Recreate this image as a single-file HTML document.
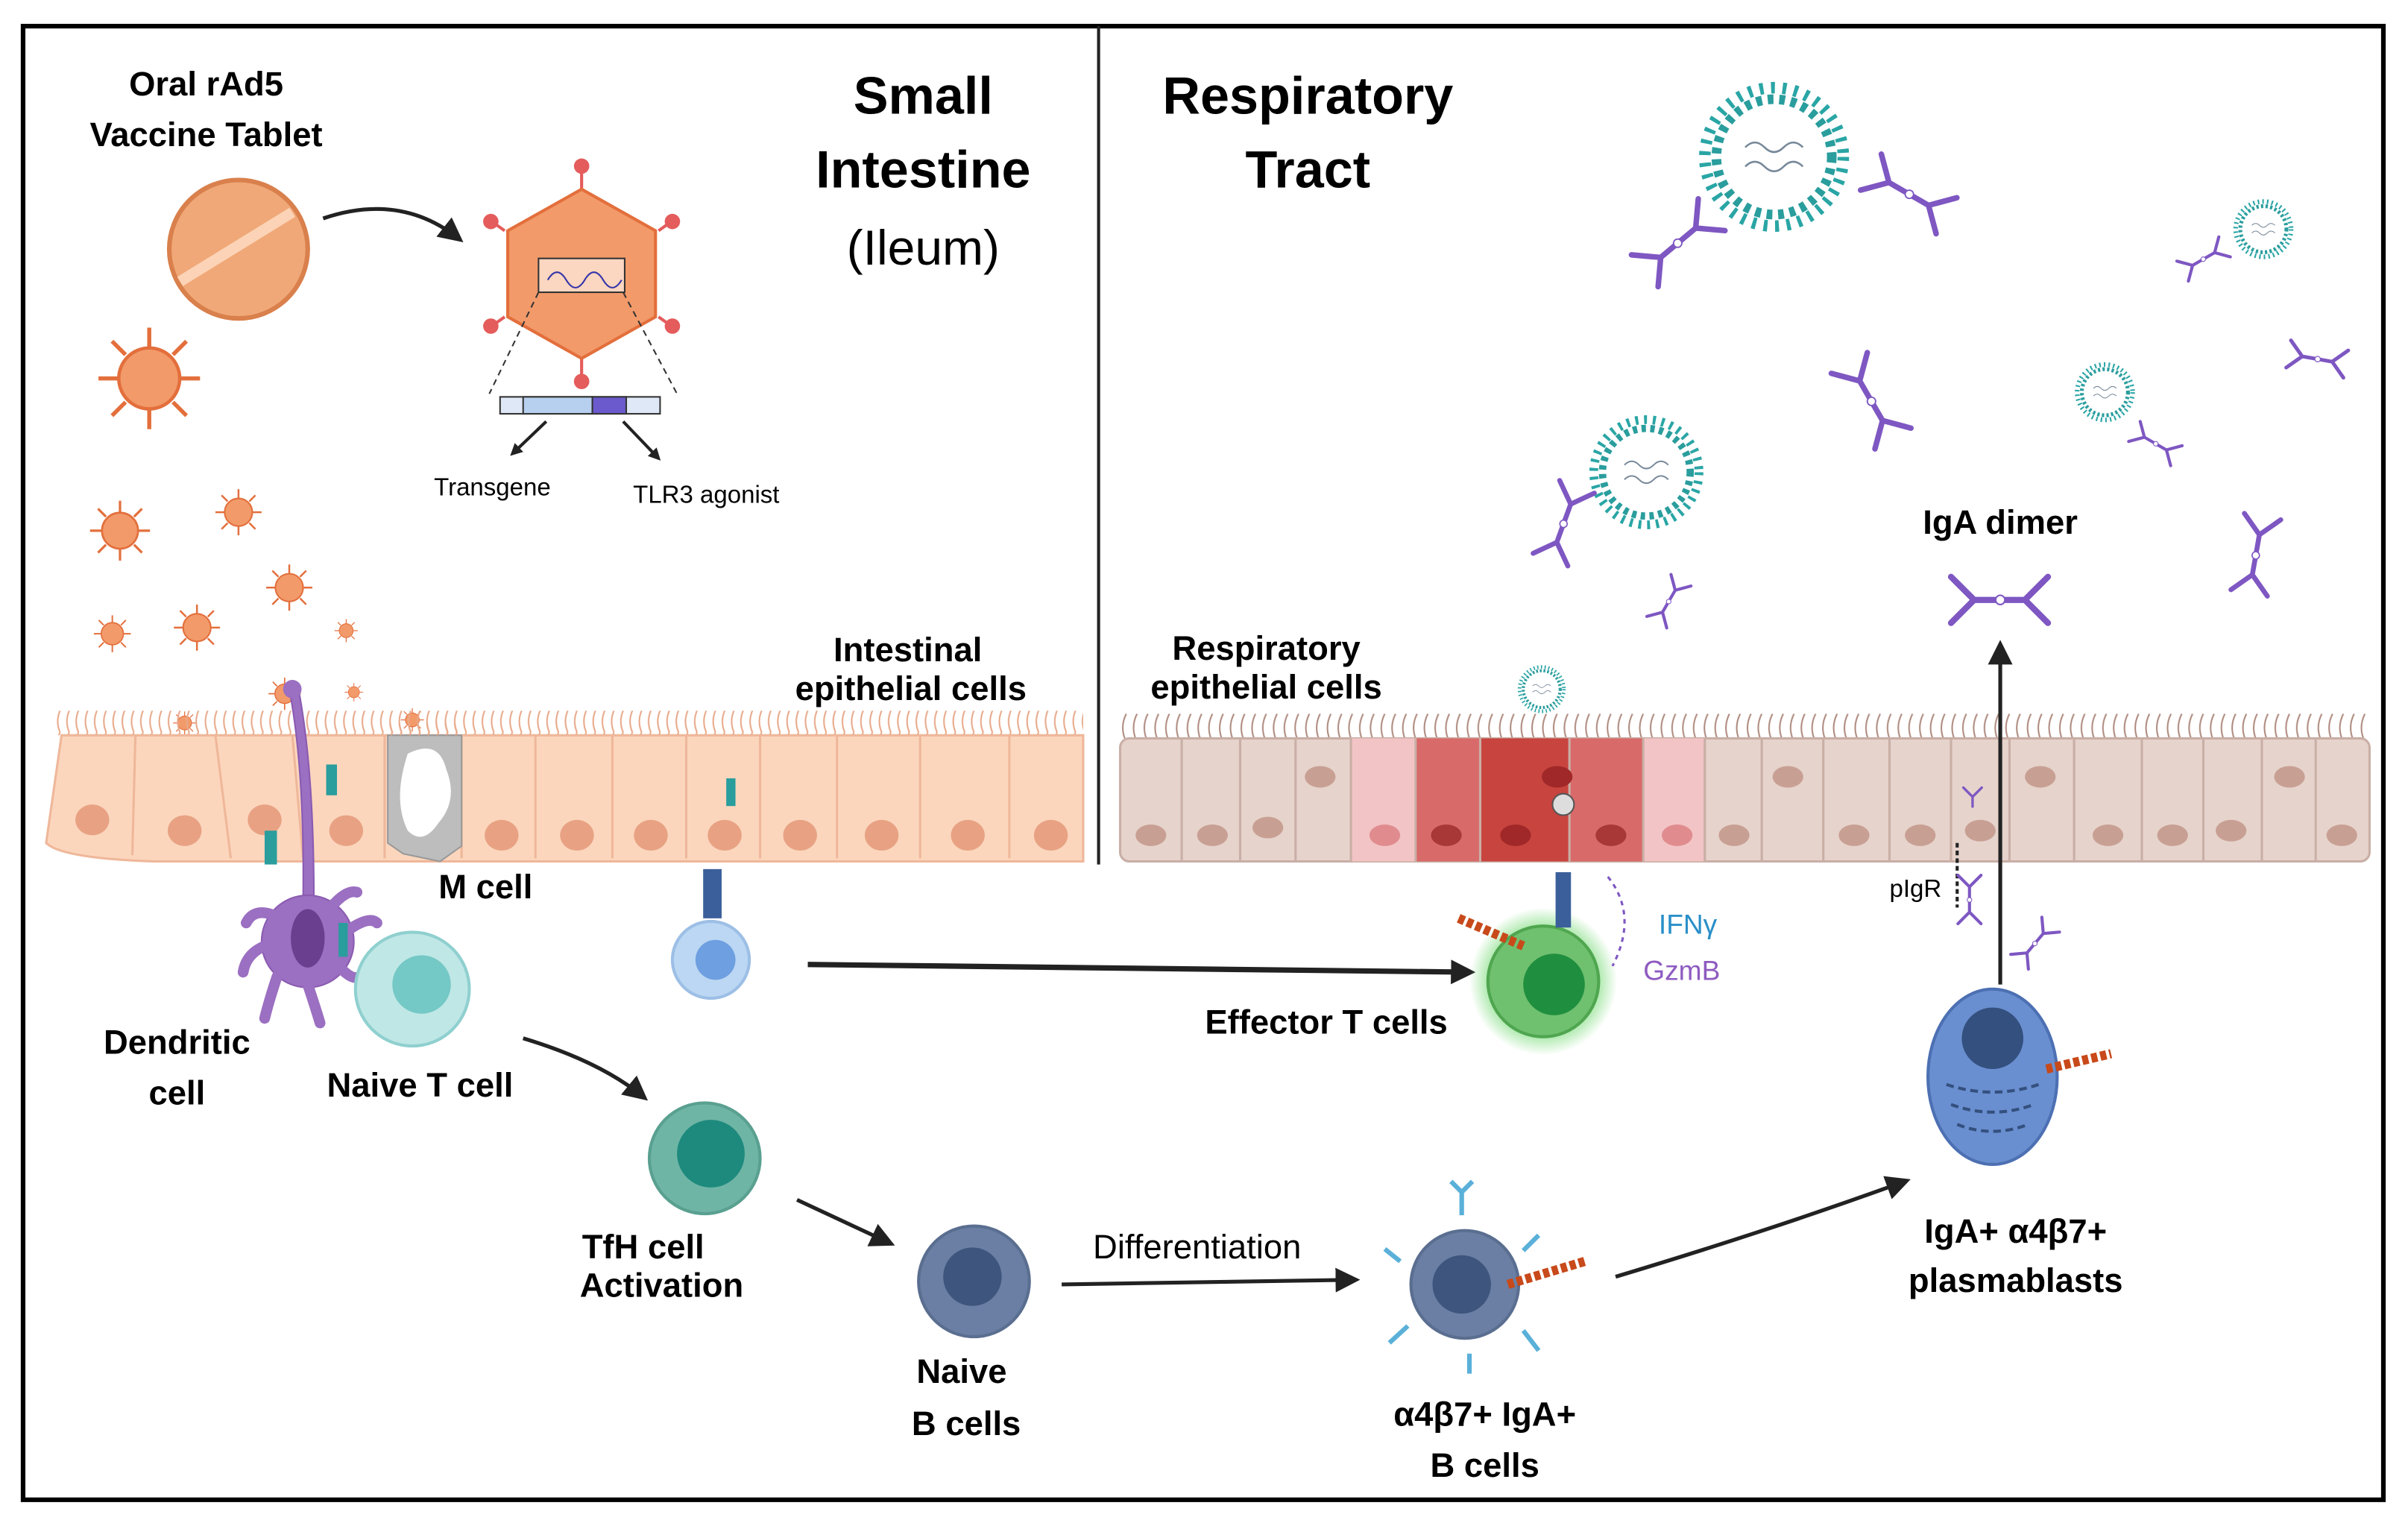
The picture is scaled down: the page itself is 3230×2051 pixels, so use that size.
<!DOCTYPE html>
<html><head><meta charset="utf-8"><style>
html,body{margin:0;padding:0;background:#fff;}
svg{display:block;}
text{font-family:"Liberation Sans",sans-serif;}
</style></head><body>
<svg width="3230" height="2051" viewBox="0 0 1565 994" preserveAspectRatio="none" xmlns="http://www.w3.org/2000/svg">
<defs>
<marker id="ah" markerWidth="8" markerHeight="8" refX="6" refY="4" orient="auto" markerUnits="userSpaceOnUse"><path d="M0,0 L8,4 L0,8 z" fill="#222"/></marker>
<marker id="ah2" markerWidth="16" markerHeight="16" refX="12" refY="8" orient="auto" markerUnits="userSpaceOnUse"><path d="M0,0 L16,8 L0,16 z" fill="#222"/></marker>
<radialGradient id="glow"><stop offset="0.6" stop-color="#6fd86f" stop-opacity="0.9"/><stop offset="1" stop-color="#6fd86f" stop-opacity="0"/></radialGradient>
<pattern id="cil" width="6" height="14" patternUnits="userSpaceOnUse"><path d="M3,14 Q0,7 3,0" stroke="#e8a98a" fill="none" stroke-width="1"/></pattern>
<pattern id="cil2" width="7" height="16" patternUnits="userSpaceOnUse"><path d="M3,16 Q0,8 4,0" stroke="#b08c80" fill="none" stroke-width="1"/></pattern>
<g id="vir"><circle r="9" fill="#f29a6a" stroke="#e36f3c"/><g stroke="#e36f3c" stroke-width="1.2"><line x1="0" y1="-9" x2="0" y2="-15"/><line x1="0" y1="9" x2="0" y2="15"/><line x1="-9" y1="0" x2="-15" y2="0"/><line x1="9" y1="0" x2="15" y2="0"/><line x1="-7" y1="-7" x2="-11" y2="-11"/><line x1="7" y1="7" x2="11" y2="11"/><line x1="7" y1="-7" x2="11" y2="-11"/><line x1="-7" y1="7" x2="-11" y2="11"/></g></g>
<g id="ab" stroke="#7e57c2" stroke-width="4" fill="none" stroke-linecap="round"><path d="M0,0 L0,16 M0,0 L-12,-12 M0,0 L12,-12 M-4,-4 L-15,-15 M4,-4 L15,-15"/></g>
<g id="dim"><use href="#ab" transform="translate(0,-3)"/><use href="#ab" transform="translate(0,30) rotate(180)"/><circle cx="0" cy="14" r="3" fill="#fff" stroke="#7e57c2"/></g>
<g id="cov"><circle r="30" fill="#fff" stroke="#2a9d9d" stroke-width="5" stroke-dasharray="3 3"/><circle r="36" fill="none" stroke="#2aa5a5" stroke-width="6" stroke-dasharray="2 4"/><path d="M-15,-5 q5,-5 10,0 t10,0 t10,0 M-15,5 q5,-5 10,0 t10,0 t10,0" stroke="#789" fill="none"/></g>
</defs>
<rect width="1565" height="994" fill="#fff"/>
<rect x="15" y="17" width="1534" height="958" fill="none" stroke="#000" stroke-width="3"/>
<line x1="714" y1="17" x2="714" y2="562" stroke="#222" stroke-width="2"/>

<text x="134" y="62" font-size="22" font-weight="bold" text-anchor="middle">Oral rAd5</text>
<text x="134" y="95" font-size="22" font-weight="bold" text-anchor="middle">Vaccine Tablet</text>
<text x="600" y="74" font-size="34" font-weight="bold" text-anchor="middle">Small</text>
<text x="600" y="122" font-size="34" font-weight="bold" text-anchor="middle">Intestine</text>
<text x="600" y="172" font-size="32" text-anchor="middle">(Ileum)</text>
<text x="850" y="74" font-size="34" font-weight="bold" text-anchor="middle">Respiratory</text>
<text x="850" y="122" font-size="34" font-weight="bold" text-anchor="middle">Tract</text>

<circle cx="155" cy="162" r="45" fill="#f0a878" stroke="#d9804c" stroke-width="3"/>
<path d="M117,183 L190,138" stroke="#fcd3b6" stroke-width="7"/>
<path d="M210,142 Q260,125 298,155" stroke="#222" stroke-width="2.5" fill="none" marker-end="url(#ah2)"/>
<g transform="translate(378,178)">
<g stroke="#e45c5c" stroke-width="2"><line x1="0" y1="-55" x2="0" y2="-68"/><line x1="-50" y1="-28" x2="-57" y2="-33"/><line x1="50" y1="-28" x2="57" y2="-33"/><line x1="-50" y1="28" x2="-57" y2="33"/><line x1="50" y1="28" x2="57" y2="33"/><line x1="0" y1="55" x2="0" y2="68"/></g>
<g fill="#e45c5c"><circle cy="-70" r="5"/><circle cx="-59" cy="-34" r="5"/><circle cx="59" cy="-34" r="5"/><circle cx="-59" cy="34" r="5"/><circle cx="59" cy="34" r="5"/><circle cy="70" r="5"/></g>
<polygon points="0,-55 48,-28 48,28 0,55 -48,28 -48,-28" fill="#f29a6a" stroke="#e36f3c" stroke-width="2"/>
<rect x="-28" y="-10" width="56" height="22" fill="#fbd6c0" stroke="#333"/>
<path d="M-22,4 q6,-10 12,0 t12,0 t12,0 t12,0" stroke="#33a" fill="none"/>
</g>
<line x1="350" y1="190" x2="318" y2="256" stroke="#333" stroke-dasharray="4 3"/>
<line x1="405" y1="190" x2="440" y2="256" stroke="#333" stroke-dasharray="4 3"/>
<rect x="325" y="258" width="104" height="11" fill="#dfe8f7" stroke="#333"/>
<rect x="340" y="258" width="45" height="11" fill="#b7d0f0" stroke="#333"/>
<rect x="385" y="258" width="22" height="11" fill="#6a5acd" stroke="#333"/>
<path d="M355,274 L333,295" stroke="#222" stroke-width="2" marker-end="url(#ah)"/>
<path d="M405,274 L428,298" stroke="#222" stroke-width="2" marker-end="url(#ah)"/>
<text x="320" y="322" font-size="16" text-anchor="middle">Transgene</text>
<text x="459" y="327" font-size="16" text-anchor="middle">TLR3 agonist</text>

<use href="#vir" transform="translate(97,246) scale(2.2)"/>
<use href="#vir" transform="translate(78,345) scale(1.3)"/>
<use href="#vir" transform="translate(155,333) scale(1)"/>
<use href="#vir" transform="translate(188,382) scale(1)"/>
<use href="#vir" transform="translate(128,408) scale(1)"/>
<use href="#vir" transform="translate(73,412) scale(0.8)"/>
<use href="#vir" transform="translate(225,410) scale(0.5)"/>
<use href="#vir" transform="translate(185,451) scale(0.7)"/>
<use href="#vir" transform="translate(120,470) scale(0.5)"/>
<use href="#vir" transform="translate(268,468) scale(0.5)"/>
<use href="#vir" transform="translate(230,450) scale(0.4)"/>

<text x="590" y="430" font-size="22" font-weight="bold" text-anchor="middle">Intestinal</text>
<text x="592" y="455" font-size="22" font-weight="bold" text-anchor="middle">epithelial cells</text>
<rect x="36" y="462" width="668" height="16" fill="url(#cil)"/>
<path d="M40,478 L704,478 L704,560 L100,560 Q40,558 30,548 Z" fill="#fbd6bd" stroke="#efb79a" stroke-width="1.5"/>
<g stroke="#efb79a" stroke-width="1.5">
<line x1="88" y1="478" x2="86" y2="556"/><line x1="140" y1="478" x2="150" y2="558"/><line x1="190" y1="478" x2="197" y2="558"/><line x1="250" y1="478" x2="250" y2="558"/><line x1="300" y1="478" x2="300" y2="558"/><line x1="348" y1="478" x2="348" y2="558"/><line x1="398" y1="478" x2="398" y2="558"/><line x1="446" y1="478" x2="446" y2="558"/><line x1="494" y1="478" x2="494" y2="558"/><line x1="544" y1="478" x2="544" y2="558"/><line x1="598" y1="478" x2="598" y2="558"/><line x1="656" y1="478" x2="656" y2="558"/>
</g>
<g fill="#e8a283">
<ellipse cx="60" cy="533" rx="11" ry="10"/><ellipse cx="120" cy="540" rx="11" ry="10"/><ellipse cx="172" cy="533" rx="11" ry="10"/><ellipse cx="225" cy="540" rx="11" ry="10"/><ellipse cx="326" cy="543" rx="11" ry="10"/><ellipse cx="375" cy="543" rx="11" ry="10"/><ellipse cx="423" cy="543" rx="11" ry="10"/><ellipse cx="471" cy="543" rx="11" ry="10"/><ellipse cx="520" cy="543" rx="11" ry="10"/><ellipse cx="573" cy="543" rx="11" ry="10"/><ellipse cx="629" cy="543" rx="11" ry="10"/><ellipse cx="683" cy="543" rx="11" ry="10"/>
</g>
<path d="M252,478 L300,478 L300,550 L286,560 L262,555 L252,548 Z" fill="#bdbdbd" stroke="#999"/>
<path d="M265,490 Q285,480 290,500 Q298,520 285,535 Q275,550 265,540 Q255,520 265,490 Z" fill="#fff"/>
<rect x="252" y="470" width="48" height="8" fill="url(#cil)"/>
<text x="285" y="584" font-size="22" font-weight="bold">M cell</text>

<!-- dendritic cell -->
<g fill="#9b6fc1" stroke="#8a5bb1">
<path d="M188,448 Q198,500 197,585 L204,585 Q204,500 194,448 Z"/>
<circle cx="200" cy="612" r="30"/>
<g stroke="#9b6fc1" stroke-width="7" stroke-linecap="round" fill="none">
<path d="M178,595 Q165,590 160,600"/><path d="M172,615 Q160,620 158,632"/><path d="M180,635 Q175,650 172,662"/><path d="M200,640 Q205,655 208,665"/><path d="M222,630 Q232,640 236,632"/><path d="M226,605 Q240,595 245,600"/><path d="M215,590 Q225,578 232,580"/>
</g>
</g>
<ellipse cx="200" cy="610" rx="11" ry="19" fill="#6b3f8f"/>
<circle cx="190" cy="448" r="6" fill="#9b6fc1"/>
<rect x="172" y="540" width="8" height="22" fill="#2a9d9d"/>
<rect x="212" y="497" width="7" height="20" fill="#2a9d9d"/>
<rect x="472" y="506" width="6" height="18" fill="#2a9d9d"/>
<rect x="220" y="600" width="6" height="22" fill="#2a9d9d"/>
<circle cx="268" cy="643" r="37" fill="#bfe7e6" stroke="#8fd0cf" stroke-width="2"/>
<circle cx="274" cy="640" r="19" fill="#74c8c5"/>
<text x="115" y="685" font-size="22" font-weight="bold" text-anchor="middle">Dendritic</text>
<text x="115" y="718" font-size="22" font-weight="bold" text-anchor="middle">cell</text>
<text x="273" y="713" font-size="22" font-weight="bold" text-anchor="middle">Naive T cell</text>

<rect x="457" y="565" width="12" height="32" fill="#3b5f9a"/>
<circle cx="462" cy="624" r="25" fill="#bcd7f3" stroke="#9dbfe6" stroke-width="2"/>
<circle cx="465" cy="624" r="13" fill="#6e9fe0"/>
<path d="M525,627 L955,632" stroke="#222" stroke-width="3.5" marker-end="url(#ah2)"/>

<path d="M340,675 Q390,690 418,713" stroke="#222" stroke-width="2.5" fill="none" marker-end="url(#ah2)"/>
<circle cx="458" cy="753" r="36" fill="#6fb5a6" stroke="#5aa090" stroke-width="2"/>
<circle cx="462" cy="750" r="22" fill="#1d8a7d"/>
<text x="418" y="818" font-size="22" font-weight="bold" text-anchor="middle">TfH cell</text>
<text x="430" y="843" font-size="22" font-weight="bold" text-anchor="middle">Activation</text>
<path d="M518,780 L578,808" stroke="#222" stroke-width="2.5" marker-end="url(#ah2)"/>
<circle cx="633" cy="833" r="36" fill="#6a7fa3" stroke="#5a6e90" stroke-width="2"/>
<circle cx="632" cy="830" r="19" fill="#3e557d"/>
<text x="625" y="899" font-size="22" font-weight="bold" text-anchor="middle">Naive</text>
<text x="628" y="933" font-size="22" font-weight="bold" text-anchor="middle">B cells</text>
<text x="778" y="818" font-size="22" text-anchor="middle">Differentiation</text>
<path d="M690,835 L880,832" stroke="#222" stroke-width="2.5" marker-end="url(#ah2)"/>

<g stroke="#5ab0d8" stroke-width="3" fill="none"><path d="M950,790 L950,775 M943,768 L950,775 L957,768 M990,813 L1000,803 M910,820 L900,812 M990,865 L1000,878 M915,862 L903,873 M955,880 L955,893"/></g>
<circle cx="952" cy="835" r="35" fill="#6a7fa3" stroke="#5a6e90" stroke-width="2"/>
<circle cx="950" cy="835" r="19" fill="#3e557d"/>
<path d="M980,835 L1030,820" stroke="#c8491a" stroke-width="6" stroke-dasharray="4 2"/>
<text x="965" y="927" font-size="22" font-weight="bold" text-anchor="middle">α4β7+ IgA+</text>
<text x="965" y="960" font-size="22" font-weight="bold" text-anchor="middle">B cells</text>
<path d="M1050,830 Q1150,800 1238,768" stroke="#222" stroke-width="2.5" fill="none" marker-end="url(#ah2)"/>

<text x="823" y="429" font-size="22" font-weight="bold" text-anchor="middle">Respiratory</text>
<text x="823" y="454" font-size="22" font-weight="bold" text-anchor="middle">epithelial cells</text>
<rect x="728" y="464" width="812" height="18" fill="url(#cil2)"/>
<rect x="728" y="480" width="812" height="80" rx="6" fill="#e6d3cc" stroke="#c9afa6" stroke-width="1.5"/>
<rect x="878" y="480" width="42" height="80" fill="#f2c4c6"/>
<rect x="920" y="480" width="42" height="80" fill="#d86a6a"/>
<rect x="962" y="480" width="58" height="80" fill="#c8443f"/>
<rect x="1020" y="480" width="48" height="80" fill="#d86a6a"/>
<rect x="1068" y="480" width="40" height="80" fill="#f2c4c6"/>
<g stroke="#c9afa6" stroke-width="1.5">
<line x1="768" y1="480" x2="768" y2="560"/><line x1="806" y1="480" x2="806" y2="560"/><line x1="842" y1="480" x2="842" y2="560"/><line x1="878" y1="480" x2="878" y2="560"/><line x1="920" y1="480" x2="920" y2="560"/><line x1="962" y1="480" x2="962" y2="560"/><line x1="1020" y1="480" x2="1020" y2="560"/><line x1="1068" y1="480" x2="1068" y2="560"/><line x1="1108" y1="480" x2="1108" y2="560"/><line x1="1145" y1="480" x2="1145" y2="560"/><line x1="1185" y1="480" x2="1185" y2="560"/><line x1="1228" y1="480" x2="1228" y2="560"/><line x1="1268" y1="480" x2="1268" y2="560"/><line x1="1306" y1="480" x2="1306" y2="560"/><line x1="1348" y1="480" x2="1348" y2="560"/><line x1="1392" y1="480" x2="1392" y2="560"/><line x1="1432" y1="480" x2="1432" y2="560"/><line x1="1470" y1="480" x2="1470" y2="560"/><line x1="1505" y1="480" x2="1505" y2="560"/>
</g>
<g fill="#c8a093">
<ellipse cx="748" cy="543" rx="10" ry="7"/><ellipse cx="788" cy="543" rx="10" ry="7"/><ellipse cx="824" cy="538" rx="10" ry="7"/><ellipse cx="858" cy="505" rx="10" ry="7"/><ellipse cx="900" cy="543" rx="10" ry="7" fill="#e08c8e"/><ellipse cx="940" cy="543" rx="10" ry="7" fill="#a83838"/><ellipse cx="1012" cy="505" rx="10" ry="7" fill="#a02828"/><ellipse cx="985" cy="543" rx="10" ry="7" fill="#a02828"/><ellipse cx="1047" cy="543" rx="10" ry="7" fill="#a83838"/><ellipse cx="1090" cy="543" rx="10" ry="7" fill="#e08c8e"/><ellipse cx="1127" cy="543" rx="10" ry="7"/><ellipse cx="1162" cy="505" rx="10" ry="7"/><ellipse cx="1205" cy="543" rx="10" ry="7"/><ellipse cx="1248" cy="543" rx="10" ry="7"/><ellipse cx="1287" cy="540" rx="10" ry="7"/><ellipse cx="1326" cy="505" rx="10" ry="7"/><ellipse cx="1370" cy="543" rx="10" ry="7"/><ellipse cx="1412" cy="543" rx="10" ry="7"/><ellipse cx="1450" cy="540" rx="10" ry="7"/><ellipse cx="1488" cy="505" rx="10" ry="7"/><ellipse cx="1522" cy="543" rx="10" ry="7"/>
</g>
<circle cx="1016" cy="523" r="7" fill="#ddd" stroke="#555"/>
<use href="#cov" transform="translate(1002,448) scale(0.4)"/>

<circle cx="1003" cy="638" r="48" fill="url(#glow)"/>
<circle cx="1003" cy="638" r="36" fill="#6fc06f" stroke="#4fa64f" stroke-width="2"/>
<circle cx="1010" cy="640" r="20" fill="#1f8f3f"/>
<rect x="1011" y="567" width="10" height="36" fill="#3b5f9a"/>
<path d="M948,597 L990,615" stroke="#c8491a" stroke-width="6" stroke-dasharray="4 2"/>
<path d="M1045,570 Q1065,595 1048,628" stroke="#7e57c2" stroke-width="1.5" stroke-dasharray="3 3" fill="none"/>
<text x="1078" y="607" font-size="18" fill="#2a8fc8">IFNγ</text>
<text x="1068" y="637" font-size="18" fill="#8e5bc0">GzmB</text>
<text x="862" y="672" font-size="22" font-weight="bold" text-anchor="middle">Effector T cells</text>

<ellipse cx="1295" cy="700" rx="42" ry="57" fill="#6a8fd0" stroke="#4d70b3" stroke-width="2"/>
<circle cx="1295" cy="675" r="20" fill="#34507f"/>
<g stroke="#34507f" stroke-width="2" fill="none" stroke-dasharray="5 3"><path d="M1265,705 Q1295,715 1325,705"/><path d="M1268,718 Q1295,728 1322,718"/><path d="M1272,731 Q1295,740 1318,731"/></g>
<path d="M1330,695 L1372,685" stroke="#c8491a" stroke-width="6" stroke-dasharray="4 2"/>
<text x="1310" y="808" font-size="22" font-weight="bold" text-anchor="middle">IgA+ α4β7+</text>
<text x="1310" y="840" font-size="22" font-weight="bold" text-anchor="middle">plasmablasts</text>
<line x1="1300" y1="640" x2="1300" y2="420" stroke="#222" stroke-width="2.5" marker-end="url(#ah2)"/>
<line x1="1272" y1="548" x2="1272" y2="590" stroke="#222" stroke-width="2" stroke-dasharray="3 2"/>
<text x="1228" y="583" font-size="16">pIgR</text>
<use href="#dim" transform="translate(1280,578) scale(0.5)"/>
<use href="#dim" transform="translate(1327,608) scale(0.5) rotate(40)"/>
<use href="#ab" transform="translate(1282,518) scale(0.4)"/>

<text x="1300" y="347" font-size="22" font-weight="bold" text-anchor="middle">IgA dimer</text>
<use href="#dim" transform="translate(1300,390) rotate(-90) translate(0,-14)"/>
<use href="#cov" transform="translate(1153,102) scale(1.25)"/>
<use href="#cov" transform="translate(1070,307) scale(0.95)"/>
<use href="#cov" transform="translate(1368,255) scale(0.5)"/>
<use href="#cov" transform="translate(1471,149) scale(0.5)"/>
<use href="#dim" transform="translate(1230,120) rotate(-60) scale(0.9)"/>
<use href="#dim" transform="translate(1100,150) rotate(50) scale(0.9)"/>
<use href="#dim" transform="translate(1020,330) rotate(20) scale(0.8)"/>
<use href="#dim" transform="translate(1210,250) rotate(-30) scale(0.9)"/>
<use href="#dim" transform="translate(1395,285) scale(0.5) rotate(-60)"/>
<use href="#dim" transform="translate(1438,165) scale(0.5) rotate(60)"/>
<use href="#dim" transform="translate(1498,232) scale(0.6) rotate(-80)"/>
<use href="#dim" transform="translate(1468,350) rotate(10) scale(0.8)"/>
<use href="#dim" transform="translate(1088,385) scale(0.5) rotate(30)"/>
</svg>
</body></html>
